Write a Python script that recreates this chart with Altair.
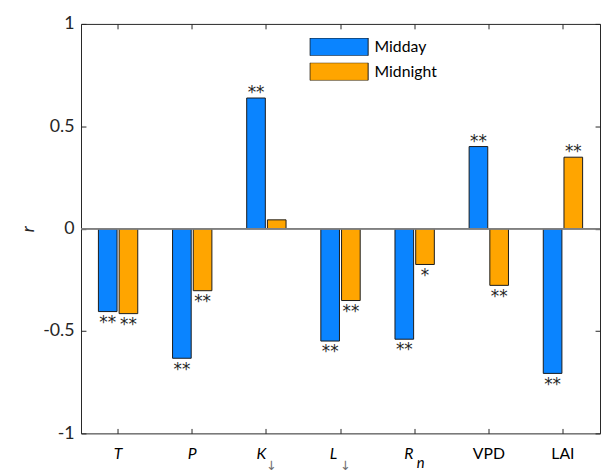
import altair as alt
import pandas as pd

categories = ["T", "P", "K", "L", "R", "VPD", "LAI"]
subscripts = ["", "", "↓", "↓", "n", "", ""]
series = ["Midday", "Midnight"]
colors = ["#0A84FF", "#FFA500"]
midday = [-0.405, -0.633, 0.638, -0.549, -0.540, 0.401, -0.707]
midnight = [-0.415, -0.303, 0.043, -0.351, -0.175, -0.277, 0.349]
sig_midday = ["**", "**", "**", "**", "**", "**", "**"]
sig_midnight = ["**", "**", "", "**", "*", "**", "**"]
y_ticks = [-1, -0.5, 0, 0.5, 1]

rows = []
for i, c in enumerate(categories):
    rows.append({"cat": c, "series": "Midday", "r": midday[i], "sig": sig_midday[i]})
    rows.append({"cat": c, "series": "Midnight", "r": midnight[i], "sig": sig_midnight[i]})
df = pd.DataFrame(rows)
sub_df = pd.DataFrame({"cat": categories, "sub": subscripts})

W, H = 526, 415
AX = "#262626"
FONT = "Lato"
TK = 5

xscale = alt.Scale(domain=categories, paddingInner=0, paddingOuter=0)
yscale = alt.Scale(domain=[-1, 1], nice=False, zero=False)
xoff_scale = alt.Scale(domain=series, paddingInner=0.1, paddingOuter=0.84)

x_bottom = alt.X(
    "cat:N", scale=xscale, sort=categories, title=None,
    axis=alt.Axis(
        orient="bottom", labelAngle=0, labelFontSize=16, labelFont=FONT,
        labelColor="black", domain=False, offset=-TK,
        labelFontStyle=alt.ExprRef("indexof(['VPD','LAI'], datum.value) >= 0 ? 'normal' : 'italic'"),
        labelOffset=alt.ExprRef("datum.value == 'K' ? -5 : datum.value == 'L' ? -7 : datum.value == 'R' ? -6 : 0"),
        tickSize=TK, tickColor=AX, labelPadding=12,
    ),
)
y_left = alt.Y(
    "r:Q", scale=yscale, title="r",
    axis=alt.Axis(
        orient="left", values=y_ticks, labelExpr="'' + datum.value",
        labelFontSize=18, labelFont=FONT, labelColor=AX, domain=False, offset=-TK,
        tickSize=TK, tickColor=AX, labelPadding=7,
        titleFontStyle="italic", titleFontSize=18, titleFont=FONT,
        titleFontWeight="normal", titleColor=AX, titlePadding=5,
    ),
)

x_plain = alt.X("cat:N", scale=xscale, sort=categories, axis=None)
y_plain = alt.Y("r:Q", scale=yscale, axis=None)

bars = alt.Chart(df).mark_bar(stroke="#1a1a1a", strokeWidth=1).encode(
    x=x_bottom,
    xOffset=alt.XOffset("series:N", scale=xoff_scale, sort=series),
    y=y_left,
    color=alt.Color(
        "series:N", scale=alt.Scale(domain=series, range=colors),
        legend=alt.Legend(
            title=None, orient="none", legendX=231.5, legendY=14.3,
            symbolType="M-1,-0.305L1,-0.305L1,0.305L-1,0.305Z", symbolSize=3481,
            symbolStrokeColor="#1a1a1a", symbolStrokeWidth=1, symbolOpacity=1,
            labelFontSize=16, labelFont=FONT, labelColor="black", labelOffset=6,
            clipHeight=18, rowPadding=7, padding=0,
        ),
    ),
)

zero = alt.Chart(df).mark_rule(color="#808080", strokeWidth=1).encode(
    y=alt.datum(0, scale=yscale, axis=None))

top_axis = alt.Chart(df).mark_rule(opacity=0).encode(
    x=alt.X("cat:N", scale=xscale, sort=categories, title=None,
            axis=alt.Axis(orient="top", labels=False, domain=False, offset=-TK,
                          tickSize=TK, tickColor=AX)),
    y=alt.Y("r:Q", scale=yscale, title=None,
            axis=alt.Axis(orient="right", labels=False, domain=False, values=y_ticks,
                          offset=-TK, tickSize=TK, tickColor=AX)),
)

sig_base = alt.Chart(df).encode(
    x=x_plain,
    xOffset=alt.XOffset("series:N", scale=xoff_scale, sort=series),
    y=y_plain,
    text="sig:N",
)
sig_neg = sig_base.transform_filter("datum.r < 0").mark_text(
    font="DejaVu Sans", fontSize=17, color=AX, baseline="middle", dy=11.5)
sig_pos = sig_base.transform_filter("datum.r >= 0").mark_text(
    font="DejaVu Sans", fontSize=17, color=AX, baseline="middle", dy=-5)

sub_arrow = alt.Chart(sub_df).transform_filter("datum.sub == '↓'").mark_text(
    font="DejaVu Sans", fontSize=13, color="#707070", baseline="top", align="center", dx=5
).encode(x=x_plain, y=alt.value(H + 27), text="sub:N")
sub_n = alt.Chart(sub_df).transform_filter("datum.sub == 'n'").mark_text(
    font=FONT, fontSize=15, fontStyle="italic", color="black", baseline="alphabetic", align="left", dx=2
).encode(x=x_plain, y=alt.value(H + 35), text="sub:N")

chart = alt.layer(bars, zero, sig_neg, sig_pos, sub_arrow, sub_n, top_axis).resolve_axis(
    x="independent", y="independent"
).properties(
    width=W, height=H, autosize="none",
    padding={"left": 74, "top": 13, "right": 1, "bottom": 36},
).configure_view(stroke=AX, strokeWidth=1).configure_axis(grid=False)

chart.save("out.html", embed_options={"renderer": "svg", "actions": False})
